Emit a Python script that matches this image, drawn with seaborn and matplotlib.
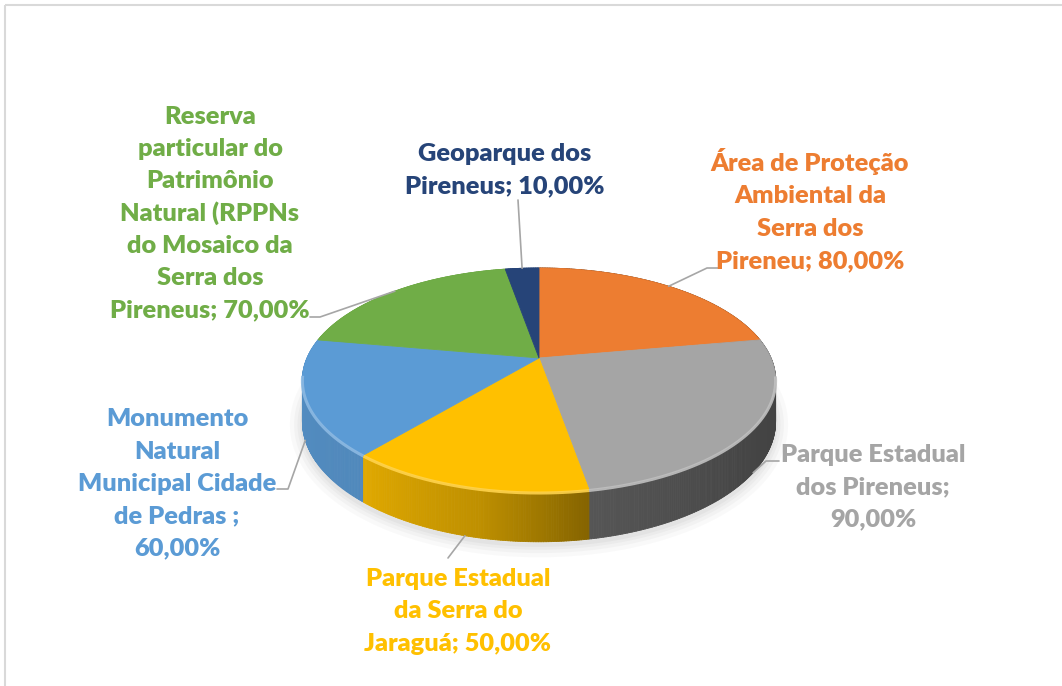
import numpy as np
import matplotlib
matplotlib.use("Agg")
import matplotlib.pyplot as plt
from matplotlib.patches import Polygon, Rectangle
from matplotlib.collections import PolyCollection
from matplotlib.colors import to_rgb
import seaborn as sns

# ---------------- data ----------------
categories = [
    "Área de Proteção\nAmbiental da\nSerra dos\nPireneu",
    "Parque Estadual\ndos Pireneus",
    "Parque Estadual\nda Serra do\nJaraguá",
    "Monumento\nNatural\nMunicipal Cidade\nde Pedras ",
    "Reserva\nparticular do\nPatrimônio\nNatural (RPPNs\ndo Mosaico da\nSerra dos\nPireneus",
    "Geoparque dos\nPireneus",
]
values = [0.80, 0.90, 0.50, 0.60, 0.70, 0.10]
value_breaks = [" ", "\n", " ", "\n", " ", " "]
colors = ["#ED7D31", "#A5A5A5", "#FFC000", "#5B9BD5", "#70AD47", "#264478"]

# ---------------- layout ----------------
label_pos = [(810, 210.5), (873, 485.5), (458, 609.5), (177, 482), (210, 211.5), (505, 168)]
leader_pts = [
    [(707, 268), (720, 268)],
    [(766, 461), (779, 461)],
    [(448, 558)],
    [(288, 489), (277, 489)],
    [(320, 317), (310, 317)],
    [(518, 200)],
]
LINE_STEP = 32.3      # pixels between label lines
BASELINE_SHIFT = 9.0  # baseline below the visual centre of a line

sns.set_theme(style="white")
plt.rcParams["font.family"] = ["Lato", "DejaVu Sans"]

W, H = 1062, 686
fig = plt.figure(figsize=(W / 100, H / 100), dpi=100)
ax = fig.add_axes([0, 0, 1, 1])
ax.set_xlim(0, W)
ax.set_ylim(H, 0)
ax.axis("off")

# perspective view of the pie disc
CX, CY = 539.0, 358.0
A, B, K, H0 = 232.0, 107.7, 0.1964, 40.0


def project(theta_deg, depth=0.0):
    t = np.radians(theta_deg)
    X, Y = np.cos(t), np.sin(t)
    w = 1 + K * Y
    return CX + A * X / w, CY - (B * Y - H0 * depth) / w


def shade(theta_deg):
    t = (np.asarray(theta_deg) - 90) % 360 + 90
    xp = [90, 170, 230, 258, 280, 320, 370, 450]
    fp = [0.92, 0.92, 0.88, 0.75, 0.52, 0.42, 0.38, 0.38]
    return np.interp(t, xp, fp)


def lighten(c, f):
    r = np.array(to_rgb(c))
    return tuple(r + (1 - r) * f)


vals = np.array(values, dtype=float)
spans = vals / vals.sum() * 360.0
starts = 90.0 - np.concatenate([[0], np.cumsum(spans)[:-1]])
ends = starts - spans

# soft shadow under the disc
th = np.linspace(170, 370, 300)
sx, sy = project(th, 1.0)
for lw, a in [(18, 0.04), (12, 0.05), (7, 0.06), (3, 0.07)]:
    ax.plot(sx, sy + 3, color="#7F7F7F", lw=lw, alpha=a, solid_capstyle="round", zorder=1)

# side walls, far to near
quads, qcols, keys = [], [], []
for s, e, c in zip(starts, ends, colors):
    n = max(3, int(abs(e - s) * 2))
    tt = np.linspace(s, e, n)
    base = np.array(to_rgb(c))
    for t0, t1 in zip(tt[:-1], tt[1:]):
        x0, y0 = project(t0, 0)
        x1, y1 = project(t1, 0)
        x2, y2 = project(t1, 1)
        x3, y3 = project(t0, 1)
        quads.append([(x0, y0), (x1, y1), (x2, y2), (x3, y3)])
        tm = 0.5 * (t0 + t1)
        qcols.append(tuple(np.clip(base * shade(tm), 0, 1)))
        keys.append(np.sin(np.radians(tm)))
order = np.argsort(keys)[::-1]
ax.add_collection(PolyCollection([quads[i] for i in order],
                                 facecolors=[qcols[i] for i in order],
                                 edgecolors=[qcols[i] for i in order],
                                 linewidths=0.6, zorder=2))

# top surface
for s, e, c in zip(starts, ends, colors):
    tt = np.linspace(s, e, max(3, int(abs(e - s) * 2)))
    px, py = project(tt, 0)
    pts = [(CX, CY)] + list(zip(px, py))
    ax.add_patch(Polygon(pts, closed=True, facecolor=c, edgecolor=c, lw=0.6, zorder=3))

# bevel highlight along the near rim
for s, e, c in zip(starts, ends, colors):
    lo, hi = min(s, e), max(s, e)
    tt = np.linspace(lo, hi, 200)
    tt = tt[np.sin(np.radians(tt)) < -0.15]
    if len(tt) < 2:
        continue
    px, py = project(tt, 0)
    ax.plot(px, py + 1, color=lighten(c, 0.3), lw=2.2, alpha=0.9, zorder=4,
            solid_capstyle="butt")

# data labels with leader lines
for name, v, brk, c, (lx, ly), pts, s, e in zip(categories, values, value_breaks, colors,
                                                 label_pos, leader_pts, starts, ends):
    pct = f"{v * 100:.2f}".replace(".", ",") + "%"
    text = f"{name};{brk}{pct}"
    mid = 0.5 * (s + e)
    depth = 1.0 if np.sin(np.radians(mid)) < -0.15 else 0.0
    axp, ayp = project(mid, depth)
    path = [(axp, ayp)] + pts
    ax.plot([p[0] for p in path], [p[1] for p in path], color="#A6A6A6", lw=1.2, zorder=5)
    lines = text.split("\n")
    for i, line in enumerate(lines):
        yc = ly + (i - (len(lines) - 1) / 2) * LINE_STEP
        ax.text(lx, yc + BASELINE_SHIFT, line, ha="center", va="baseline",
                color=c, fontsize=18.3, fontweight="heavy", zorder=6)

# chart area border
ax.add_patch(Rectangle((5, 5), 1200, 800, fill=False, edgecolor="#D9D9D9", lw=1.5,
                       zorder=0))

fig.savefig("out.png", dpi=100, facecolor="white")
